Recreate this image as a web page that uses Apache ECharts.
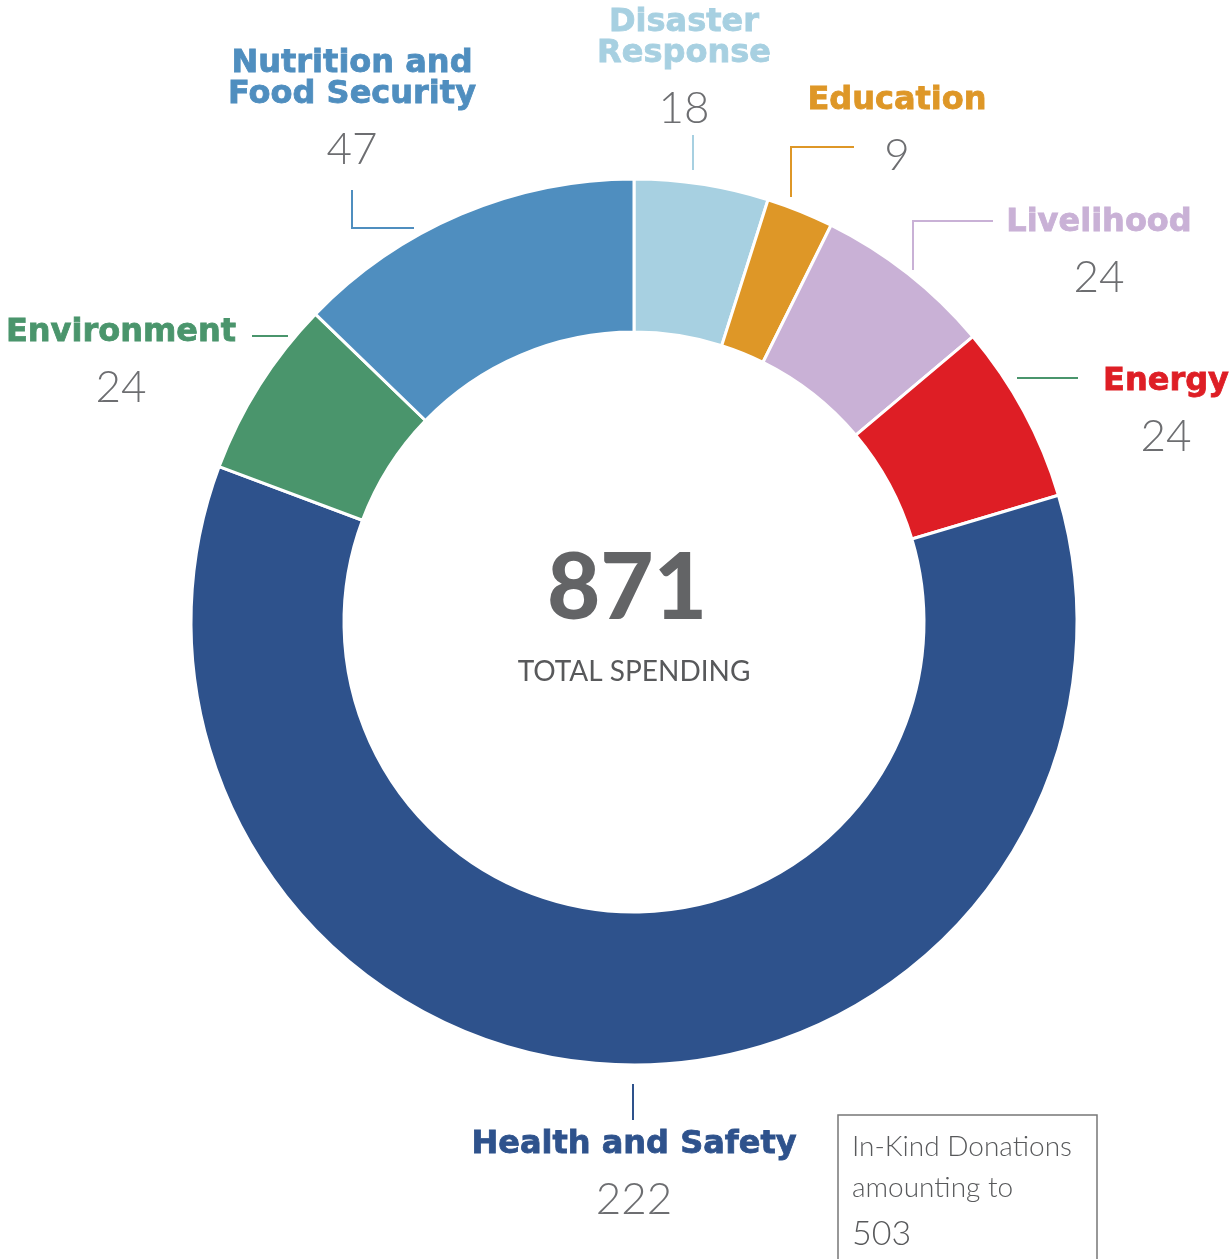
<!DOCTYPE html>
<html>
<head>
<meta charset="utf-8">
<script src="https://cdn.jsdelivr.net/npm/echarts@6/dist/echarts.min.js"></script>
<style>
html,body{margin:0;padding:0;background:#fff;}
#chart{width:1230px;height:1259px;}
</style>
</head>
<body>
<div id="chart"></div>
<script>
// ---- data ----
const categories = ['Disaster Response', 'Education', 'Livelihood', 'Energy', 'Health and Safety', 'Environment', 'Nutrition and Food Security'];
const values = [18, 9, 24, 24, 222, 24, 47];
const inKindValue = 503;
const centerLabel = 'TOTAL SPENDING';
const inKindLines = ['In-Kind Donations', 'amounting to'];

// ---- styling / layout (not data) ----
const colors = ['#a7d0e1', '#de9727', '#c9b1d6', '#de1e25', '#2e528c', '#4a956c', '#4f8ebf'];
const lineColors = ['#a7d0e1', '#de9727', '#c9b1d6', '#4a956c', '#2e528c', '#4a956c', '#4f8ebf'];
const labelBreaks = { 'Disaster Response': 'Disaster\nResponse', 'Nutrition and Food Security': 'Nutrition and\nFood Security' };
const labelPos = [
  { x: 684, y: 7, line: [[693, 170], [693, 152], [693, 135]] },
  { x: 897, y: 85, line: [[791, 197], [791, 147], [854, 147]] },
  { x: 1099, y: 207, line: [[913, 270], [913, 221], [993, 221]] },
  { x: 1166, y: 366, line: [[1017, 378], [1048, 378], [1078, 378]] },
  { x: 634, y: 1129, line: [[633, 1084], [633, 1102], [633, 1120]] },
  { x: 121, y: 317, line: [[252, 336], [270, 336], [288, 336]] },
  { x: 352, y: 48, line: [[414, 228], [352, 228], [352, 190]] }
];

const total = values.reduce((a, b) => a + b, 0) + inKindValue;
const gray = '#6d6e71';

const chart = echarts.init(document.getElementById('chart'), null, { renderer: 'canvas' });

const seriesData = categories.map((c, i) => ({
  name: c,
  value: values[i],
  itemStyle: { color: colors[i] },
  label: {
    color: colors[i],
    rich: {
      n: { color: colors[i], textBorderColor: colors[i], textBorderWidth: 0.8 },
      v: { color: gray, textBorderWidth: 0 }
    }
  },
  labelLine: { lineStyle: { color: lineColors[i], width: 2 } }
}));

chart.setOption({
  animation: false,
  series: [{
    type: 'pie',
    center: [634, 622],
    radius: [290, 443],
    startAngle: 90,
    clockwise: true,
    avoidLabelOverlap: false,
    itemStyle: { borderColor: '#fff', borderWidth: 3 },
    label: {
      show: true,
      position: 'outside',
      formatter: function (p) {
        const nm = (labelBreaks[p.name] || p.name).split('\n').map(s => '{n|' + s + '}').join('\n');
        return nm + '\n{v|' + p.value + '}';
      },
      rich: {
        n: { fontFamily: 'DejaVu Sans', fontWeight: 'bold', fontSize: 32, lineHeight: 31, align: 'center' },
        v: { fontFamily: 'Lato', fontWeight: 300, fontSize: 44, lineHeight: 79, color: gray, align: 'center' }
      }
    },
    labelLine: { show: true, length: 10, length2: 10 },
    labelLayout: function (params) {
      const lp = labelPos[params.dataIndex];
      return { x: lp.x, y: lp.y, align: 'center', verticalAlign: 'top', labelLinePoints: lp.line };
    },
    data: seriesData
  }],
  graphic: [
    { type: 'text', style: { text: String(total), fontFamily: 'Lato', fontWeight: 900, fontSize: 92, fill: '#636466', textAlign: 'center', textVerticalAlign: 'middle' }, x: 627, y: 589 },
    { type: 'text', style: { text: centerLabel, fontFamily: 'Lato', fontWeight: 400, fontSize: 28, fill: '#58595b', textAlign: 'center', textVerticalAlign: 'middle' }, x: 634, y: 672 },
    { type: 'rect', shape: { x: 838, y: 1115, width: 259, height: 170 }, style: { fill: 'none', stroke: '#777', lineWidth: 1.5 } },
    { type: 'text', style: { text: inKindLines[0], fontFamily: 'Lato', fontWeight: 300, fontSize: 28, fill: '#58595b', textAlign: 'left', textVerticalAlign: 'middle' }, x: 852, y: 1147 },
    { type: 'text', style: { text: inKindLines[1], fontFamily: 'Lato', fontWeight: 300, fontSize: 28, fill: '#58595b', textAlign: 'left', textVerticalAlign: 'middle' }, x: 852, y: 1188 },
    { type: 'text', style: { text: String(inKindValue), fontFamily: 'Lato', fontWeight: 300, fontSize: 34, fill: '#58595b', textAlign: 'left', textVerticalAlign: 'middle' }, x: 852, y: 1234 }
  ]
});
</script>
</body>
</html>
